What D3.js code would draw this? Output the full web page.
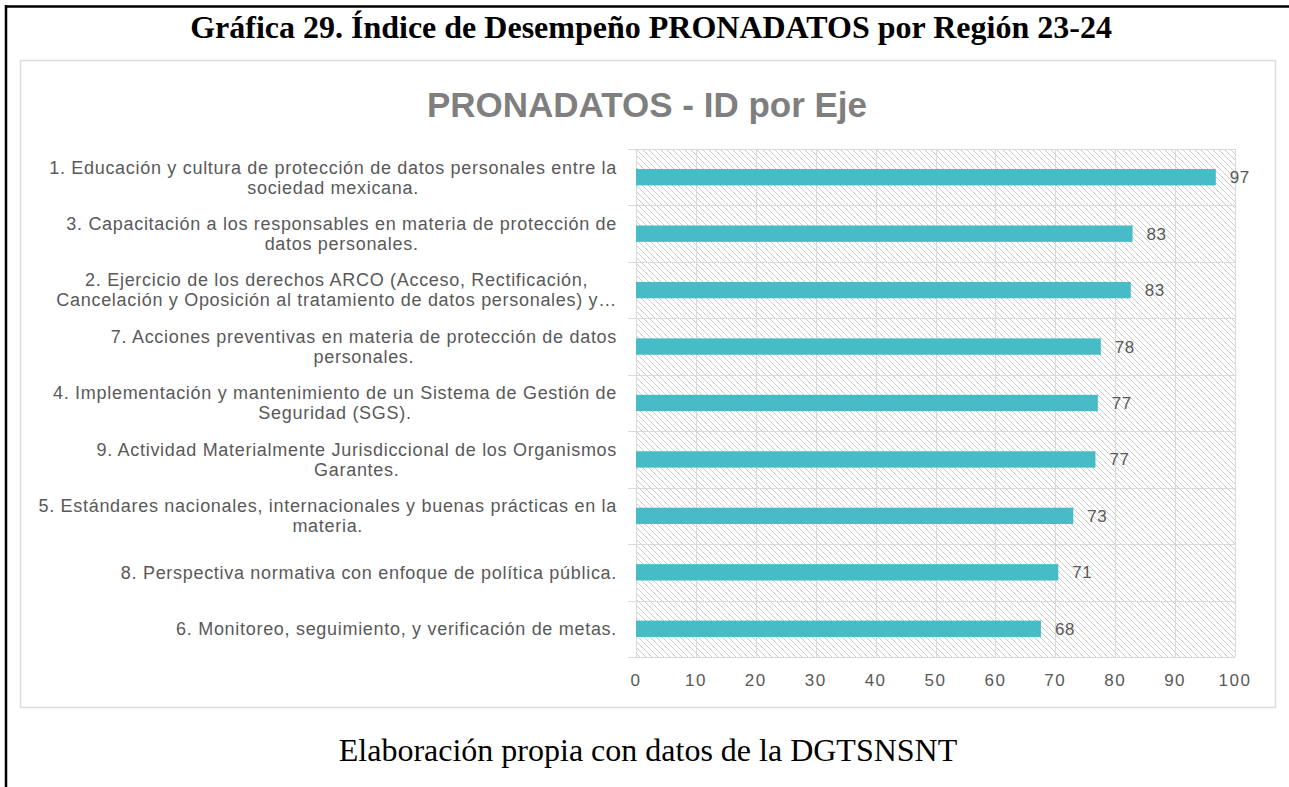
<!DOCTYPE html>
<html>
<head>
<meta charset="utf-8">
<script src="https://cdn.jsdelivr.net/npm/d3@7"></script>
<style>
  body { margin: 0; background: #fff; }
  text { font-family: "Liberation Sans", Arial, sans-serif; }
</style>
</head>
<body>
<script>
// category labels, already wrapped the way the picture shows them
var labels = [
  ["1. Educación y cultura de protección de datos personales entre la", "sociedad mexicana."],
  ["3. Capacitación a los responsables en materia de protección de", "datos personales."],
  ["2. Ejercicio de los derechos ARCO (Acceso, Rectificación,", "Cancelación y Oposición al tratamiento de datos personales) y…"],
  ["7. Acciones preventivas en materia de protección de datos", "personales."],
  ["4. Implementación y mantenimiento de un Sistema de Gestión de", "Seguridad (SGS)."],
  ["9. Actividad Materialmente Jurisdiccional de los Organismos", "Garantes."],
  ["5. Estándares nacionales, internacionales y buenas prácticas en la", "materia."],
  ["8. Perspectiva normativa con enfoque de política pública."],
  ["6. Monitoreo, seguimiento, y verificación de metas."]
];
var values = [96.8, 82.9, 82.6, 77.6, 77.1, 76.7, 73.0, 70.5, 67.6];
var ticks = [0, 10, 20, 30, 40, 50, 60, 70, 80, 90, 100];

var svg = d3.select("body").append("svg")
    .attr("width", 1289)
    .attr("height", 787);

var margin = {top: 149, left: 636},
    width = 599,
    height = 508;

var grey = "#595959", gridColor = "#d9d9d9";

// hatch pattern used for the plot background
var defs = svg.append("defs");
var pat = defs.append("pattern")
    .attr("id", "hatch")
    .attr("patternUnits", "userSpaceOnUse")
    .attr("width", 6)
    .attr("height", 6);
pat.append("path")
    .attr("d", "M0,0L6,6M-1,5L1,7M5,-1L7,1")
    .attr("stroke", "#cbcbcb")
    .attr("stroke-width", 1);

// page frame
svg.append("line").attr("x1", 5).attr("x2", 1289).attr("y1", 6.5).attr("y2", 6.5)
    .attr("stroke", "#000").attr("stroke-width", 2.5);
svg.append("line").attr("x1", 6).attr("x2", 6).attr("y1", 5).attr("y2", 787)
    .attr("stroke", "#000").attr("stroke-width", 2.5);

svg.append("text")
    .attr("x", 651)
    .attr("y", 38)
    .attr("text-anchor", "middle")
    .style("font-family", "'Liberation Serif', 'Times New Roman', serif")
    .style("font-weight", "bold")
    .style("font-size", "32px")
    .attr("fill", "#000")
    .text("Gráfica 29. Índice de Desempeño PRONADATOS por Región 23-24");

// chart area frame
svg.append("rect")
    .attr("x", 20.5).attr("y", 60.5)
    .attr("width", 1255).attr("height", 647)
    .attr("fill", "#fff")
    .attr("stroke", "#dcdcdc")
    .attr("stroke-width", 1.5);

svg.append("text")
    .attr("x", 647)
    .attr("y", 117)
    .attr("text-anchor", "middle")
    .style("font-weight", "bold")
    .style("font-size", "35px")
    .attr("fill", "#7f7f7f")
    .text("PRONADATOS - ID por Eje");

var g = svg.append("g").attr("transform", "translate(" + margin.left + "," + margin.top + ")");

var x = d3.scaleLinear()
    .domain([0, 100])
    .range([0, width]);

var y = d3.scaleBand()
    .domain(d3.range(labels.length))
    .range([0, height]);

g.append("rect")
    .attr("width", width)
    .attr("height", height)
    .attr("fill", "url(#hatch)");

// vertical grid
g.selectAll(".vgrid")
  .data(ticks)
  .enter().append("line")
    .attr("class", "vgrid")
    .attr("x1", function(d) { return Math.round(x(d)) + 0.5; })
    .attr("x2", function(d) { return Math.round(x(d)) + 0.5; })
    .attr("y1", 0)
    .attr("y2", height)
    .attr("stroke", gridColor);

// category separators, with the small tick to the left
var seps = d3.range(labels.length + 1).map(function(i) { return i * y.step(); });
g.selectAll(".hgrid")
  .data(seps)
  .enter().append("line")
    .attr("class", "hgrid")
    .attr("x1", -8)
    .attr("x2", width)
    .attr("y1", function(d) { return Math.round(d) + 0.5; })
    .attr("y2", function(d) { return Math.round(d) + 0.5; })
    .attr("stroke", gridColor);

var barH = y.bandwidth() * 0.29;

g.selectAll(".bar")
  .data(values)
  .enter().append("rect")
    .attr("class", "bar")
    .attr("x", x(0))
    .attr("y", function(d, i) { return y(i) + (y.bandwidth() - barH) / 2; })
    .attr("width", function(d) { return x(d) - x(0); })
    .attr("height", barH)
    .attr("fill", "#47bcc6");

g.selectAll(".val")
  .data(values)
  .enter().append("text")
    .attr("class", "val")
    .attr("x", function(d) { return x(d) + 14; })
    .attr("y", function(d, i) { return y(i) + y.bandwidth() / 2; })
    .attr("dy", "0.35em")
    .style("font-size", "17px")
    .style("letter-spacing", "0.5px")
    .attr("fill", grey)
    .text(function(d) { return d3.format(".0f")(d); });

// x axis labels
g.selectAll(".tick-label")
  .data(ticks)
  .enter().append("text")
    .attr("class", "tick-label")
    .attr("x", function(d) { return x(d); })
    .attr("y", height + 23)
    .attr("dy", "0.35em")
    .attr("text-anchor", "middle")
    .style("font-size", "17px")
    .style("letter-spacing", "1.5px")
    .attr("fill", grey)
    .text(function(d) { return d; });

// category labels: block right aligned, lines centred inside the block
var labelRight = 617, lineGap = 20;
var cat = svg.selectAll(".cat")
  .data(labels)
  .enter().append("g")
    .attr("class", "cat");

cat.each(function(lines, i) {
  var el = d3.select(this);
  var cy = margin.top + y(i) + y.bandwidth() / 2;
  var t = el.selectAll("text")
    .data(lines)
    .enter().append("text")
      .attr("y", function(d, j) { return cy + (j - (lines.length - 1) / 2) * lineGap; })
      .attr("dy", "0.35em")
      .attr("text-anchor", "middle")
      .style("font-size", "18px")
      .style("letter-spacing", "0.7px")
      .attr("fill", grey)
      .text(function(d) { return d; });
  var w = d3.max(t.nodes(), function(n) { return n.getComputedTextLength(); });
  t.attr("x", labelRight - w / 2);
});

svg.append("text")
    .attr("x", 648)
    .attr("y", 761)
    .attr("text-anchor", "middle")
    .style("font-family", "'Liberation Serif', 'Times New Roman', serif")
    .style("font-size", "32px")
    .attr("fill", "#000")
    .text("Elaboración propia con datos de la DGTSNSNT");
</script>
</body>
</html>
